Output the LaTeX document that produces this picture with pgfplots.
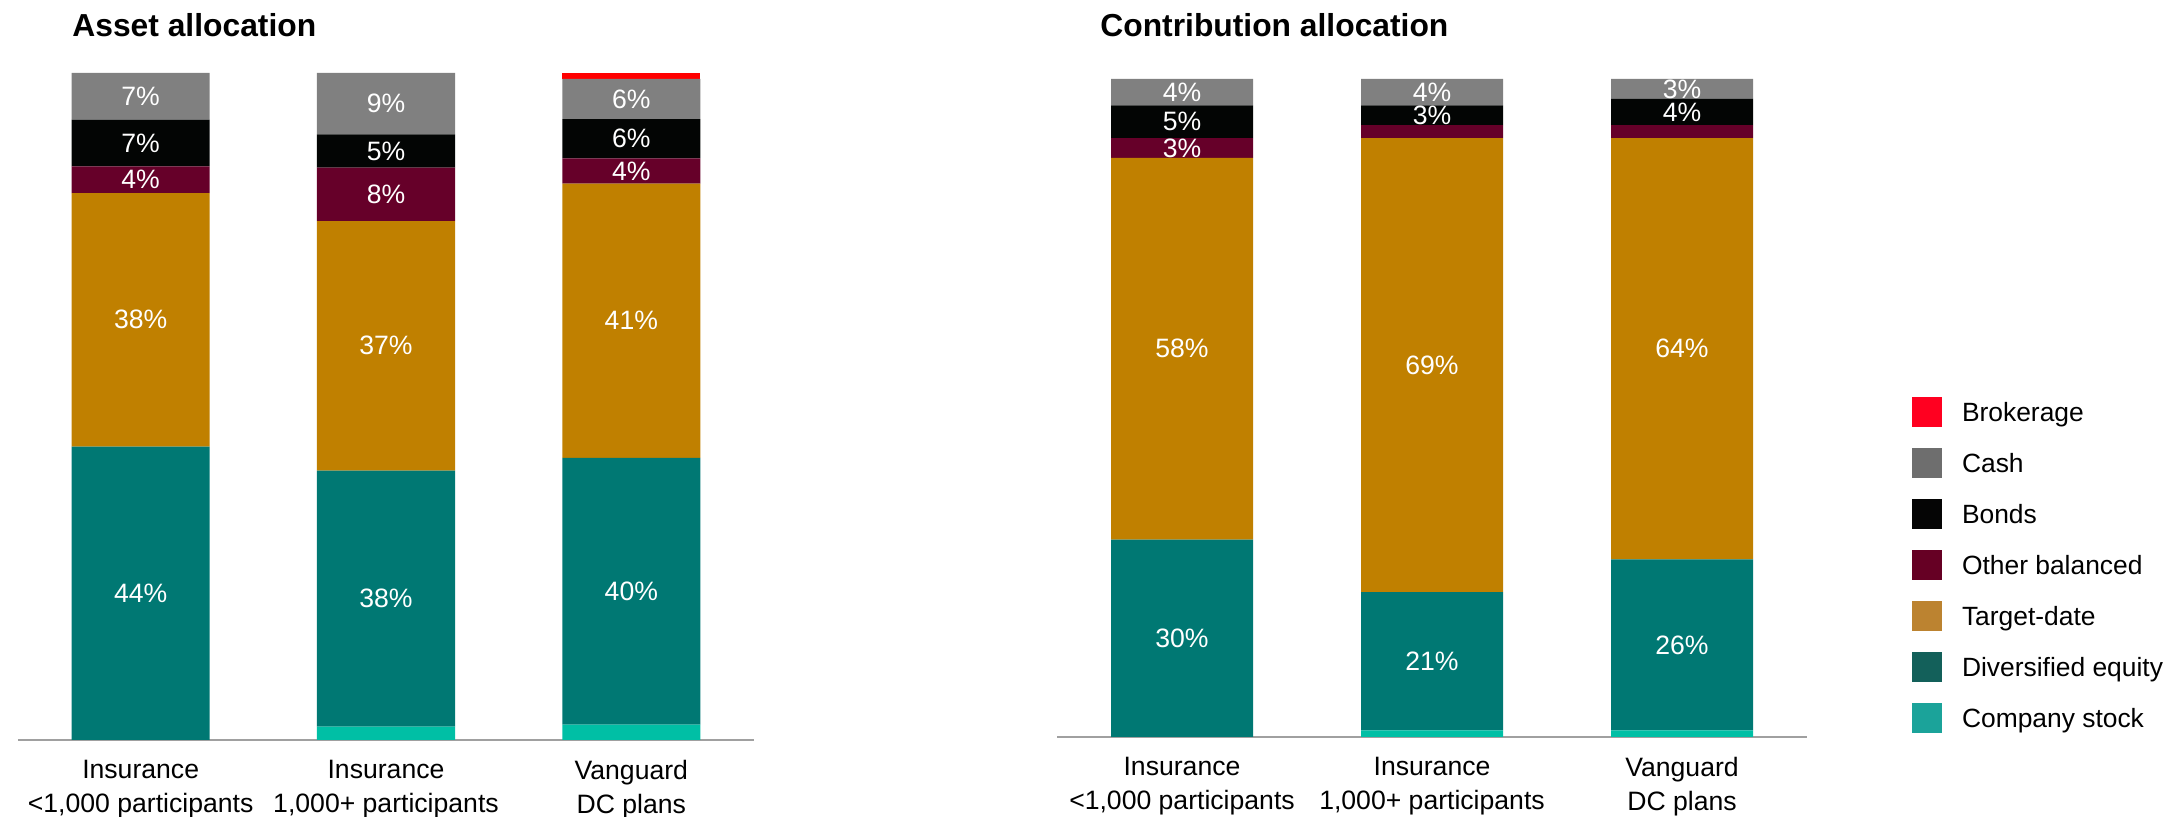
\documentclass[border=0pt]{standalone}
\usepackage{fontspec}
\setmainfont{Liberation Sans}
\usepackage{pgfplots}
\pgfplotsset{compat=1.18}
\usepackage{pgfplotstable}

\definecolor{cBrok}{RGB}{255,0,0}
\definecolor{cCash}{RGB}{128,128,128}
\definecolor{cBonds}{RGB}{3,5,4}
\definecolor{cOthbal}{RGB}{102,0,41}
\definecolor{cTdate}{RGB}{192,128,0}
\definecolor{cDiveq}{RGB}{0,120,115}
\definecolor{cCstock}{RGB}{0,191,165}

\definecolor{lBrok}{RGB}{255,0,32}
\definecolor{lCash}{RGB}{110,110,110}
\definecolor{lBonds}{RGB}{5,5,5}
\definecolor{lOthbal}{RGB}{102,0,36}
\definecolor{lTdate}{RGB}{188,131,48}
\definecolor{lDiveq}{RGB}{19,96,90}
\definecolor{lCstock}{RGB}{27,163,154}
\definecolor{axisgray}{RGB}{160,160,160}

\pgfplotstableread{
x cstock diveq tdate othbal bonds cash brok
0 0   44   38   4   7   7   0
1 2   38.4 37.4 8   5   9.2 0
2 2.3 40   41.1 3.8 5.9 6   0.9
}\assetdata

\pgfplotstableread{
x cstock diveq tdate othbal bonds cash brok
0 0 30 58 3 5 4 0
1 1 21 69 2 3 4 0
2 1 26 64 2 4 3 0
}\contribdata

\pgfplotsset{
  barbase/.style={
    scale only axis, xmin=-0.5, xmax=2.5, ymin=0, ymax=100,
    axis y line=none, axis x line*=bottom,
    x axis line style={draw=axisgray, line width=1pt},
    xtick={0,1,2}, major tick length=0pt, ytick=\empty,
    xticklabels={{Insurance\\<1,000 participants},{Insurance\\1,000+ participants},{Vanguard\\DC plans}},
    xticklabel style={align=center, font=\fontsize{13.3}{16.9}\selectfont, inner sep=0pt, yshift=-10.1pt, text=black},
    ybar stacked, clip=false,
    title style={anchor=base west, yshift=-6pt, font=\fontsize{15.9}{18}\selectfont\bfseries, inner sep=0pt},
  },
  lblbase/.style={
    scale only axis, xmin=-0.5, xmax=2.5, ymin=0, ymax=100, hide axis, clip=false,
  },
  lbls/.style={draw=none, mark=none, nodes near coords, point meta=explicit symbolic,
    every node near coord/.append style={anchor=center, text=white, font=\fontsize{13.3}{13.3}\selectfont, inner sep=0pt}},
}

\begin{document}
\begin{tikzpicture}
\useasboundingbox (0,0) rectangle (1084.5pt,408.5pt);

% ---------- Asset allocation ----------
\begin{axis}[barbase, at={(9pt,38.5pt)}, anchor=south west, width=368pt, height=333.5pt,
  bar width=0.563, title={Asset allocation}, title style={at={(0.0734,1.0547)}}]
\addplot[fill=cCstock, draw=none] table[x=x, y=cstock] {\assetdata};
\addplot[fill=cDiveq, draw=none] table[x=x, y=diveq] {\assetdata};
\addplot[fill=cTdate, draw=none] table[x=x, y=tdate] {\assetdata};
\addplot[fill=cOthbal, draw=none] table[x=x, y=othbal] {\assetdata};
\addplot[fill=cBonds, draw=none] table[x=x, y=bonds] {\assetdata};
\addplot[fill=cCash, draw=none] table[x=x, y=cash] {\assetdata};
\addplot[fill=cBrok, draw=none] table[x=x, y=brok] {\assetdata};
\end{axis}
\begin{axis}[lblbase, at={(9pt,38.5pt)}, anchor=south west, width=368pt, height=333.5pt]
\addplot[lbls] coordinates {
 (0,22) [44\%] (0,63) [38\%] (0,84) [4\%] (0,89.5) [7\%] (0,96.5) [7\%]
 (1,21.2) [38\%] (1,59.1) [37\%] (1,81.8) [8\%] (1,88.3) [5\%] (1,95.4) [9\%]
 (2,22.3) [40\%] (2,62.85) [41\%] (2,85.3) [4\%] (2,90.15) [6\%] (2,96.1) [6\%]
};
\end{axis}

% ---------- Contribution allocation ----------
\begin{axis}[barbase, at={(528.5pt,40pt)}, anchor=south west, width=375pt, height=329pt,
  bar width=0.568, title={Contribution allocation}, title style={at={(0.0573,1.0646)}}]
\addplot[fill=cCstock, draw=none] table[x=x, y=cstock] {\contribdata};
\addplot[fill=cDiveq, draw=none] table[x=x, y=diveq] {\contribdata};
\addplot[fill=cTdate, draw=none] table[x=x, y=tdate] {\contribdata};
\addplot[fill=cOthbal, draw=none] table[x=x, y=othbal] {\contribdata};
\addplot[fill=cBonds, draw=none] table[x=x, y=bonds] {\contribdata};
\addplot[fill=cCash, draw=none] table[x=x, y=cash] {\contribdata};
\addplot[fill=cBrok, draw=none] table[x=x, y=brok] {\contribdata};
\end{axis}
\begin{axis}[lblbase, at={(528.5pt,40pt)}, anchor=south west, width=375pt, height=329pt]
\addplot[lbls] coordinates {
 (0,15) [30\%] (0,59) [58\%] (0,89.5) [3\%] (0,93.5) [5\%] (0,98) [4\%]
 (1,11.5) [21\%] (1,56.5) [69\%] (1,94.5) [3\%] (1,98) [4\%]
 (2,14) [26\%] (2,59) [64\%] (2,95) [4\%] (2,98.5) [3\%]
};
\end{axis}

% ---------- Legend ----------
\begin{axis}[scale only axis, hide axis, at={(956pt,38.5pt)}, anchor=south west,
  width=100pt, height=333.5pt, xmin=0, xmax=1, ymin=0, ymax=1,
  legend cell align=left,
  legend image code/.code={\fill[#1, draw=none] (0pt,-7.5pt) rectangle (15pt,7.5pt);},
  legend style={at={(0,0.51424)}, anchor=north west, draw=none, fill=none,
    inner sep=0pt, outer sep=0pt, row sep=10.5pt, column sep=10pt,
    font=\fontsize{13.2}{13.2}\selectfont,
    nodes={inner sep=0pt, text height=9.45pt, text depth=0pt}}]
\addlegendimage{fill=lBrok}\addlegendentry{Brokerage}
\addlegendimage{fill=lCash}\addlegendentry{Cash}
\addlegendimage{fill=lBonds}\addlegendentry{Bonds}
\addlegendimage{fill=lOthbal}\addlegendentry{Other balanced}
\addlegendimage{fill=lTdate}\addlegendentry{Target-date}
\addlegendimage{fill=lDiveq}\addlegendentry{Diversified equity}
\addlegendimage{fill=lCstock}\addlegendentry{Company stock}
\end{axis}
\end{tikzpicture}
\end{document}
